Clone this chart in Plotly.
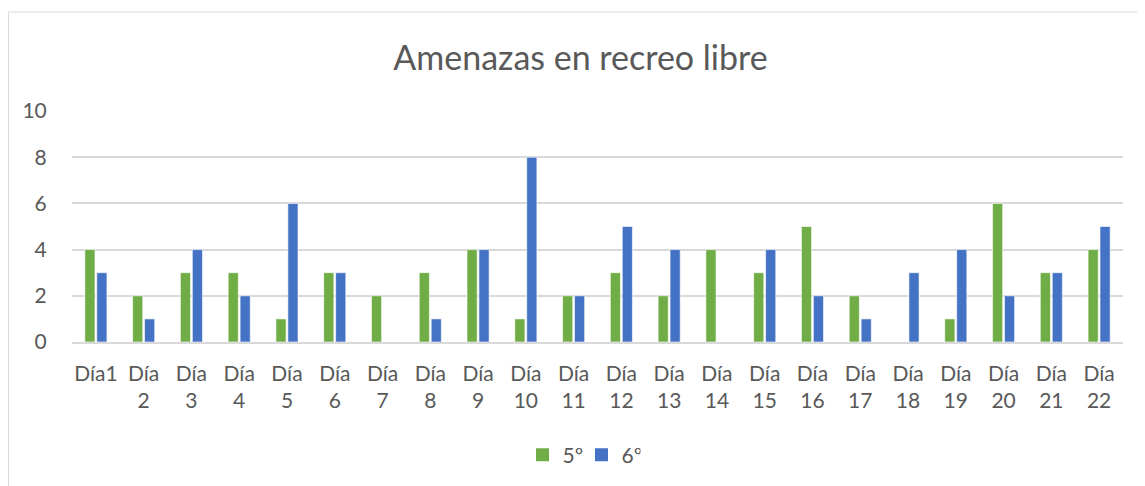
import plotly.graph_objects as go

# data
dias = ["Día1"] + [f"Día<br>{i}" for i in range(2, 23)]
quinto = [4, 2, 3, 3, 1, 3, 2, 3, 4, 1, 2, 3, 2, 4, 3, 5, 2, 0, 1, 6, 3, 4]
sexto = [3, 1, 4, 2, 6, 3, 0, 1, 4, 8, 2, 5, 4, 0, 4, 2, 1, 3, 4, 2, 3, 5]
y_ticks = [0, 2, 4, 6, 8, 10]

GREEN = "#70AD47"
BLUE = "#4472C4"
TXT = "#595959"
FONT = "Lato, Open Sans, sans-serif"

x = list(range(len(dias)))

fig = go.Figure()
fig.add_bar(x=x, y=quinto, name="5º", showlegend=False,
            marker=dict(color=GREEN, line=dict(color="white", width=0.6)))
fig.add_bar(x=x, y=sexto, name="6º", showlegend=False,
            marker=dict(color=BLUE, line=dict(color="white", width=0.6)))
# legend entries with bigger square swatches, like Excel's
for name, col in [("5º", GREEN), ("6º", BLUE)]:
    fig.add_scatter(x=[None], y=[None], mode="markers", name=name,
                    marker=dict(symbol="square", size=13, color=col))

# page body has 8px margin, so everything is placed 8px up/left
L, R, T, B = 64, 30, 103, 152
PW, PH = 1145 - L - R, 486 - T - B

# light chart frame (left/top edges visible)
fig.add_shape(type="rect", xref="paper", yref="paper",
              x0=-(L - 0.5) / PW, x1=1.2, y0=-1, y1=(PH + 99) / PH,
              line=dict(color="#D9D9D9", width=1))

fig.update_layout(
    width=1145, height=486,
    margin=dict(l=L, r=R, t=T, b=B),
    paper_bgcolor="white", plot_bgcolor="white",
    font=dict(family=FONT, color=TXT, size=20),
    title=dict(text="Amenazas en recreo libre", x=0.5, xanchor="center",
               y=1 - 50/486, yanchor="middle",
               font=dict(size=34, color=TXT, family=FONT)),
    barmode="group", bargap=0.5, bargroupgap=0.15,
    showlegend=True,
    legend=dict(orientation="h", x=0.5 - 16 / PW, xanchor="center", y=-113/PH, yanchor="middle",
                font=dict(size=21, color=TXT), itemwidth=30,
                entrywidth=14, entrywidthmode="pixels"),
    xaxis=dict(tickmode="array", tickvals=x, ticktext=dias, range=[-0.5, len(dias) - 0.5],
               showgrid=False, zeroline=False, ticks="", showline=True,
               linecolor="#D9D9D9", linewidth=1.5, ticklabelstandoff=12,
               tickfont=dict(size=21, color=TXT)),
    yaxis=dict(range=[0, 10], tickvals=y_ticks, showgrid=True, gridcolor="#D9D9D9",
               gridwidth=1.5, zeroline=False, ticks="outside", ticklen=20,
               tickcolor="white", tickfont=dict(size=21, color=TXT)),
)

fig.write_html("out.html")
